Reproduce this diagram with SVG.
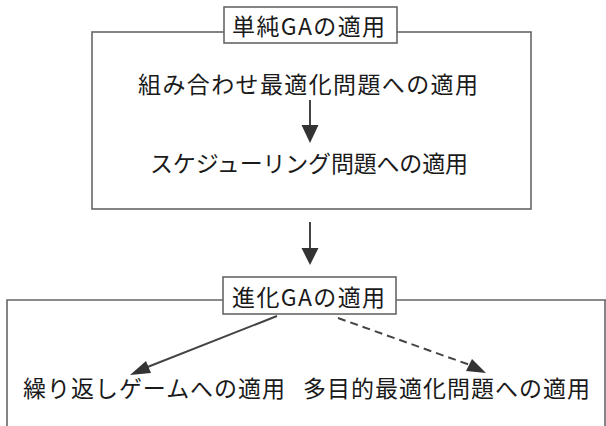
<svg xmlns="http://www.w3.org/2000/svg" width="606" height="426" viewBox="0 0 606 426">
<defs>
<style>
.frame{fill:none;stroke:#666;stroke-width:1.6}
.lbl{fill:#fff;stroke:#666;stroke-width:1.6}
.t{font-family:"Noto Sans CJK JP","Noto Sans",sans-serif;font-size:23px;fill:#1a1a1a}
.ln{stroke:#444;stroke-width:2;fill:none}
.ah{fill:#333}
</style>
</defs>
<rect width="606" height="426" fill="#fff"/>
<g id="group-simple">
<rect class="frame" x="92" y="32" width="439" height="177"/>
<rect class="lbl" x="224" y="7" width="173" height="36"/>
<text class="t" x="232" y="35" textLength="153" lengthAdjust="spacing">単純GAの適用</text>
</g>
<g id="node-combi">
<text class="t" x="138" y="93" textLength="340" lengthAdjust="spacing">組み合わせ最適化問題への適用</text>
</g>
<g id="node-sched">
<text class="t" x="150" y="172" textLength="318" lengthAdjust="spacing">スケジューリング問題への適用</text>
</g>
<g id="group-evo">
<path class="frame" d="M607,300 H7 V427"/>
<path class="frame" d="M605,300 V427"/>
<rect class="lbl" x="223" y="277" width="173" height="37"/>
<text class="t" x="232" y="306" textLength="153" lengthAdjust="spacing">進化GAの適用</text>
</g>
<g id="node-game">
<text class="t" x="23" y="397" textLength="262" lengthAdjust="spacing">繰り返しゲームへの適用</text>
</g>
<g id="node-multi">
<text class="t" x="303" y="397" textLength="287" lengthAdjust="spacing">多目的最適化問題への適用</text>
</g>
<g id="connectors">
<line class="ln" x1="310" y1="100" x2="310" y2="126"/>
<path class="ah" d="M301.5,125 H318.5 L310,143 Z"/>
<line class="ln" x1="310" y1="222" x2="310" y2="249"/>
<path class="ah" d="M301.5,248 H318.5 L310,265 Z"/>
<line class="ln" x1="277" y1="316" x2="145" y2="368"/>
<path class="ah" d="M130,375 L146,361 L151,373 Z"/>
<line class="ln" x1="338" y1="318" x2="470" y2="365" stroke-dasharray="8,5"/>
<path class="ah" d="M486,373 L466,371 L472,359 Z"/>
</g>
</svg>
